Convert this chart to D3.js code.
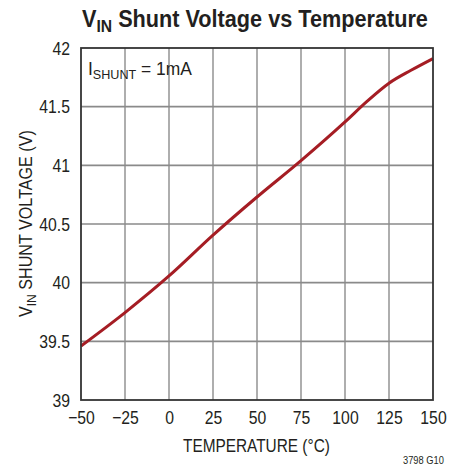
<!DOCTYPE html>
<html><head><meta charset="utf-8">
<script src="https://cdn.jsdelivr.net/npm/d3@7"></script>
<style>
html,body{margin:0;padding:0;background:#fff;}
svg{display:block;}
text{font-family:"Liberation Sans",Arial,sans-serif;fill:#231f20;}
</style></head>
<body><svg id="c" width="463" height="468"></svg>
<script>
const temperatures = [-50, -25, 0, 25, 50, 75, 100, 112.5, 125, 137.5, 150];
const shuntVoltage = [39.46, 39.745, 40.057, 40.405, 40.73, 41.04, 41.37, 41.545, 41.70, 41.81, 41.91];
const xTicks = [-50, -25, 0, 25, 50, 75, 100, 125, 150];
const yTicks = [39, 39.5, 40, 40.5, 41, 41.5, 42];

const svg = d3.select("#c");
const L = 81, R = 433, T = 48, B = 400;
const K = 0.83; // horizontal condensation
const x = d3.scaleLinear().domain([-50, 150]).range([L, R]);
const y = d3.scaleLinear().domain([39, 42]).range([B, T]);

// grid
svg.append("g").selectAll("line").data(xTicks.slice(1, -1)).join("line")
  .attr("x1", d => x(d)).attr("x2", d => x(d)).attr("y1", T).attr("y2", B)
  .attr("stroke", "#9a9a9a").attr("stroke-width", 1.6);
svg.append("g").selectAll("line").data(yTicks.slice(1, -1)).join("line")
  .attr("x1", L).attr("x2", R).attr("y1", d => y(d)).attr("y2", d => y(d))
  .attr("stroke", "#8a8a8a").attr("stroke-width", 1.6);

// curve
const line = d3.line().x(d => x(d[0])).y(d => y(d[1])).curve(d3.curveMonotoneX);
svg.append("path").datum(temperatures.map((t, i) => [t, shuntVoltage[i]]))
  .attr("d", line).attr("fill", "none").attr("stroke", "#a51d24").attr("stroke-width", 3);

// frame
svg.append("rect").attr("x", L).attr("y", T).attr("width", R - L).attr("height", B - T)
  .attr("fill", "none").attr("stroke", "#333").attr("stroke-width", 1.8);

// axes (labels only)
const fmtX = d => d < 0 ? "\u2212" + Math.abs(d) : String(d);
const xAxis = d3.axisBottom(x).tickValues(xTicks).tickSize(0).tickPadding(11).tickFormat(fmtX);
const gx = svg.append("g").attr("transform", `translate(0,${B})`).call(xAxis);
gx.select(".domain").remove();
gx.selectAll("text").attr("font-size", 19).attr("font-family", null).style("fill", "#231f20")
  .attr("transform", `scale(${K},1)`);

const yAxis = d3.axisLeft(y).tickValues(yTicks).tickSize(0).tickPadding(11).tickFormat(d => String(d));
const gy = svg.append("g").attr("transform", `translate(${L},0)`).call(yAxis);
gy.select(".domain").remove();
gy.selectAll("text").attr("font-size", 19).attr("font-family", null).style("fill", "#231f20")
  .attr("x", -11 / K).attr("transform", `scale(${K},1)`);

// helper: place a text and squeeze it horizontally to a target width
function fit(sel, tx, ty, width, rotate) {
  const w = sel.node().getBBox().width;
  const k = width / w;
  sel.attr("transform", `translate(${tx},${ty})${rotate ? " rotate(-90)" : ""} scale(${k},1)`);
}

// title
const title = svg.append("text").attr("font-size", 23.5).attr("font-weight", "bold");
title.append("tspan").text("V");
title.append("tspan").attr("font-size", 17).attr("dy", 5).text("IN");
title.append("tspan").attr("dy", -5).text(" Shunt Voltage vs Temperature");
fit(title, 82, 27, 346);

// x title
const xt = svg.append("text").attr("font-size", 17.5).text("TEMPERATURE (\u00B0C)");
fit(xt, 183, 451.5, 147);

// y title
const yt = svg.append("text").attr("font-size", 17.5);
yt.append("tspan").text("V");
yt.append("tspan").attr("font-size", 13).attr("dy", 4).text("IN");
yt.append("tspan").attr("dy", -4).text(" SHUNT VOLTAGE (V)");
fit(yt, 32, 317, 187, true);

// annotation
const ann = svg.append("text").attr("font-size", 18);
ann.append("tspan").text("I");
ann.append("tspan").attr("font-size", 13).attr("dy", 4).text("SHUNT");
ann.append("tspan").attr("dy", -4).text(" = 1mA");
fit(ann, 88, 75, 104);

// figure id
const fid = svg.append("text").attr("font-size", 10.5).text("3798 G10");
fit(fid, 403, 463.5, 41);
</script></body></html>
